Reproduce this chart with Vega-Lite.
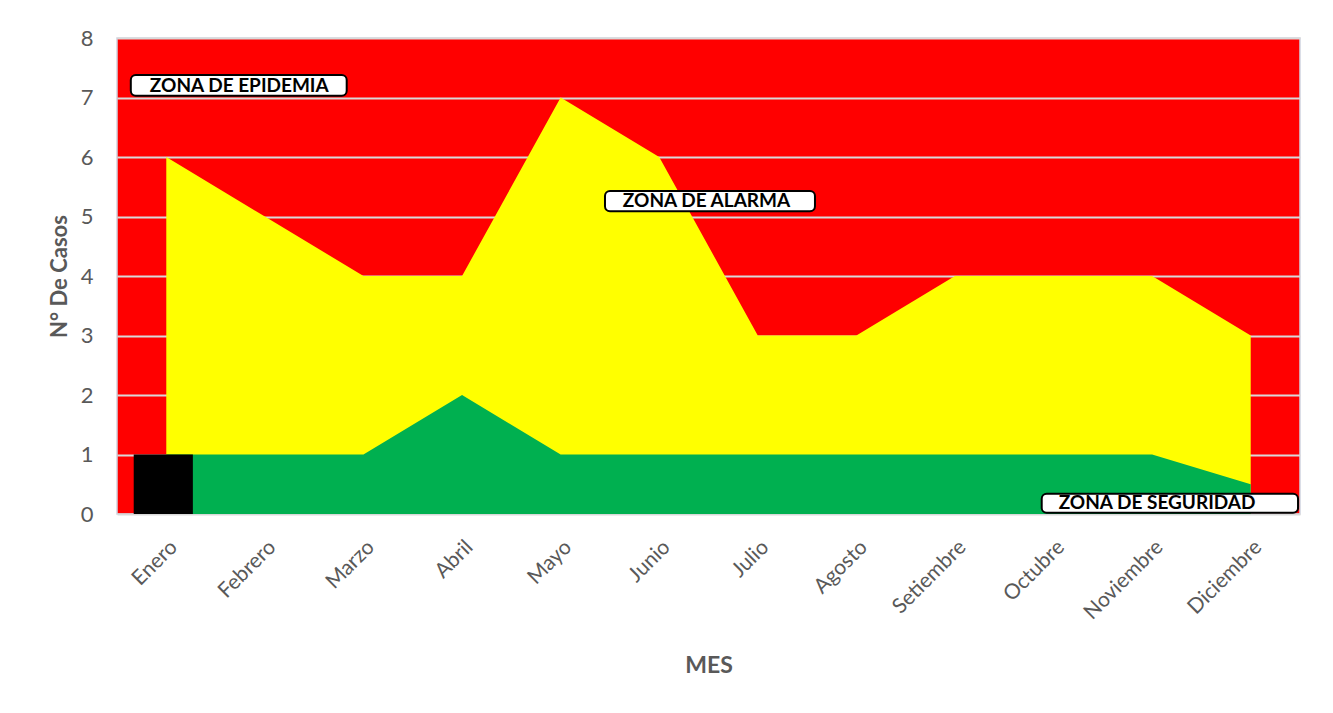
{
  "$schema": "https://vega.github.io/schema/vega-lite/v6.json",
  "width": 1183,
  "height": 476,
  "autosize": {"type": "none"},
  "padding": {"left": 117, "top": 38, "right": 33, "bottom": 199},
  "background": "white",
  "config": {
    "view": {"fill": "#FF0000", "stroke": "#D0D4E0", "strokeWidth": 1.5},
    "font": "Lato"
  },
  "datasets": {
    "meses": [
      {"mes": "Enero", "alarma": 6, "seguridad": 1, "casos": 1},
      {"mes": "Febrero", "alarma": 5, "seguridad": 1, "casos": null},
      {"mes": "Marzo", "alarma": 4, "seguridad": 1, "casos": null},
      {"mes": "Abril", "alarma": 4, "seguridad": 2, "casos": null},
      {"mes": "Mayo", "alarma": 7, "seguridad": 1, "casos": null},
      {"mes": "Junio", "alarma": 6, "seguridad": 1, "casos": null},
      {"mes": "Julio", "alarma": 3, "seguridad": 1, "casos": null},
      {"mes": "Agosto", "alarma": 3, "seguridad": 1, "casos": null},
      {"mes": "Setiembre", "alarma": 4, "seguridad": 1, "casos": null},
      {"mes": "Octubre", "alarma": 4, "seguridad": 1, "casos": null},
      {"mes": "Noviembre", "alarma": 4, "seguridad": 1, "casos": null},
      {"mes": "Diciembre", "alarma": 3, "seguridad": 0.5, "casos": null}
    ],
    "zonas": [
      {"zona": "ZONA DE EPIDEMIA", "x0": 0.14, "x1": 2.33, "y0": 7.03, "y1": 7.38, "xc": 1.24, "yc": 7.2},
      {"zona": "ZONA DE ALARMA", "x0": 4.95, "x1": 7.08, "y0": 5.09, "y1": 5.43, "xc": 5.98, "yc": 5.26},
      {"zona": "ZONA DE SEGURIDAD", "x0": 9.38, "x1": 11.98, "y0": 0.02, "y1": 0.34, "xc": 10.55, "yc": 0.18}
    ]
  },
  "resolve": {"scale": {"x": "independent"}},
  "layer": [
    {
      "data": {"name": "meses"},
      "layer": [
        {
          "mark": {"type": "area", "color": "#FFFF00", "opacity": 1},
          "encoding": {
            "x": {
              "field": "mes", "type": "nominal", "bandPosition": 0.5,
              "sort": ["Enero","Febrero","Marzo","Abril","Mayo","Junio","Julio","Agosto","Setiembre","Octubre","Noviembre","Diciembre"],
              "scale": {"type": "band", "paddingInner": 0, "paddingOuter": 0},
              "axis": {
                "title": "MES", "titleFontSize": 23, "titleFontWeight": "bold", "titleColor": "#595959",
                "labelAngle": -45, "labelFontSize": 21, "labelColor": "#595959", "labelPadding": 22,
                "ticks": false, "domain": false, "titlePadding": 32
              }
            },
            "y": {
              "field": "alarma", "type": "quantitative",
              "scale": {"domain": [0, 8], "nice": false},
              "axis": {
                "title": "N° De Casos", "titleFontSize": 22, "titleFontWeight": "bold", "titleColor": "#595959",
                "labelFontSize": 22, "labelColor": "#595959", "labelPadding": 24, "format": "d",
                "ticks": false, "domain": false, "grid": true, "gridColor": "#D9D9D9", "gridWidth": 2,
                "values": [0, 1, 2, 3, 4, 5, 6, 7, 8], "titlePadding": 9
              }
            }
          }
        },
        {
          "mark": {"type": "area", "color": "#00B050", "opacity": 1},
          "encoding": {
            "x": {
              "field": "mes", "type": "nominal", "bandPosition": 0.5,
              "sort": ["Enero","Febrero","Marzo","Abril","Mayo","Junio","Julio","Agosto","Setiembre","Octubre","Noviembre","Diciembre"]
            },
            "y": {"field": "seguridad", "type": "quantitative"}
          }
        },
        {
          "mark": {"type": "bar", "color": "#000000", "width": {"band": 0.6}, "xOffset": -3},
          "encoding": {
            "x": {
              "field": "mes", "type": "nominal",
              "sort": ["Enero","Febrero","Marzo","Abril","Mayo","Junio","Julio","Agosto","Setiembre","Octubre","Noviembre","Diciembre"]
            },
            "y": {"field": "casos", "type": "quantitative"}
          }
        }
      ]
    },
    {
      "data": {"name": "zonas"},
      "layer": [
        {
          "mark": {"type": "rect", "fill": "white", "stroke": "black", "strokeWidth": 2, "cornerRadius": 5},
          "encoding": {
            "x": {"field": "x0", "type": "quantitative", "scale": {"domain": [0, 12], "nice": false, "zero": false}, "axis": null},
            "x2": {"field": "x1"},
            "y": {"field": "y0", "type": "quantitative"},
            "y2": {"field": "y1"}
          }
        },
        {
          "mark": {"type": "text", "fontWeight": "bold", "fontSize": 19, "color": "black", "baseline": "middle", "align": "center"},
          "encoding": {
            "x": {"field": "xc", "type": "quantitative", "scale": {"domain": [0, 12], "nice": false, "zero": false}, "axis": null},
            "y": {"field": "yc", "type": "quantitative"},
            "text": {"field": "zona"}
          }
        }
      ]
    }
  ]
}
